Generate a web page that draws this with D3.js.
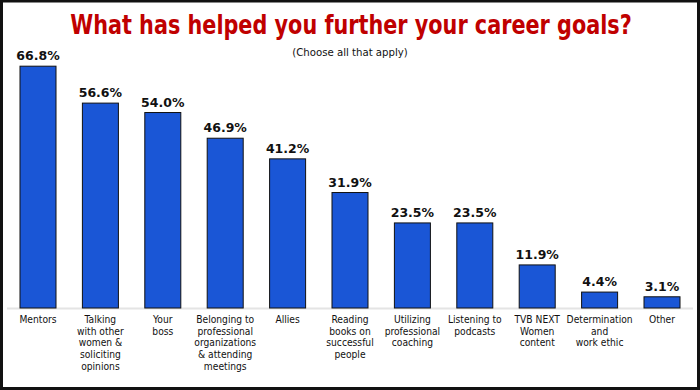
<!doctype html>
<html>
  <head>
    <script src="https://cdn.jsdelivr.net/npm/d3@7/dist/d3.min.js"></script>
    <style>
      body, html {
        margin: 0;
        background: #fff;
      }
      svg {
        display: block;
      }
      rect.bar {
        fill: #1a56d6;
        stroke: #111;
        stroke-width: 1px;
      }
      text.value {
        font-family: "DejaVu Sans", Verdana, sans-serif;
        font-weight: bold;
        font-size: 12.5px;
        fill: #111;
      }
      text.cat {
        font-family: "DejaVu Sans Condensed", Tahoma, sans-serif;
        font-size: 10.2px;
        fill: #111;
      }
      text.title {
        font-family: "DejaVu Sans Condensed", Tahoma, sans-serif;
        font-weight: bold;
        font-size: 26px;
        fill: #c00000;
      }
      text.subtitle {
        font-family: "DejaVu Sans Condensed", Tahoma, sans-serif;
        font-size: 11.3px;
        fill: #111;
      }
    </style>
  </head>
  <body>
    <svg width="700" height="390"></svg>
    <script>

      var categories = [
        "Mentors",
        "Talking\nwith other\nwomen &\nsoliciting\nopinions",
        "Your\nboss",
        "Belonging to\nprofessional\norganizations\n& attending\nmeetings",
        "Allies",
        "Reading\nbooks on\nsuccessful\npeople",
        "Utilizing\nprofessional\ncoaching",
        "Listening to\npodcasts",
        "TVB NEXT\nWomen\ncontent",
        "Determination\nand\nwork ethic",
        "Other"
      ];
      var values = [66.8, 56.6, 54.0, 46.9, 41.2, 31.9, 23.5, 23.5, 11.9, 4.4, 3.1];
      var title = "What has helped you further your career goals?";
      var subtitle = "(Choose all that apply)";

      var svg = d3.select("svg");

      // frame round the whole picture
      svg.append("rect")
        .attr("x", 1.5).attr("y", 1)
        .attr("width", 697).attr("height", 387.5)
        .attr("fill", "#fff")
        .attr("stroke", "#111")
        .attr("stroke-width", 3);

      var x = d3.scaleBand()
        .domain(d3.range(categories.length))
        .range([6.8, 693.2])
        .paddingInner(0.423)
        .paddingOuter(0.2115);

      var y = d3.scaleLinear()
        .domain([0, 70])
        .range([308, 308 - 70 * 3.62]);

      // the original face is narrower, so squeeze it to that width
      var t = svg.append("text")
        .attr("class", "title")
        .attr("text-anchor", "middle")
        .text(title);
      var sx = Math.min(1, 562 / t.node().getComputedTextLength());
      t.attr("transform", "translate(351,34) scale(" + sx + ",1)");

      svg.append("text")
        .attr("class", "subtitle")
        .attr("x", 350).attr("y", 56)
        .attr("text-anchor", "middle")
        .text(subtitle);

      // baseline
      svg.append("line")
        .attr("x1", 7).attr("x2", 693)
        .attr("y1", y(0) + 0.5).attr("y2", y(0) + 0.5)
        .attr("stroke", "#e4e4e4")
        .attr("stroke-width", 2);

      svg.selectAll("rect.bar")
        .data(values)
        .enter().append("rect")
        .attr("class", "bar")
        .attr("x", (d, i) => x(i))
        .attr("y", d => y(d))
        .attr("width", x.bandwidth())
        .attr("height", d => y(0) - y(d));

      svg.selectAll("text.value")
        .data(values)
        .enter().append("text")
        .attr("class", "value")
        .attr("x", (d, i) => x(i) + x.bandwidth() / 2)
        .attr("y", d => y(d) - 6)
        .attr("text-anchor", "middle")
        .text(d => d.toFixed(1) + "%");

      var cats = svg.selectAll("text.cat")
        .data(categories)
        .enter().append("text")
        .attr("class", "cat")
        .attr("text-anchor", "middle")
        .attr("transform", (d, i) => "translate(" + (x(i) + x.bandwidth() / 2) + "," + (y(0) + 15) + ")");

      cats.selectAll("tspan")
        .data(d => d.split("\n"))
        .enter().append("tspan")
        .attr("x", 0)
        .attr("y", (d, i) => i * 11.7)
        .text(d => d);

    </script>
  </body>
</html>
